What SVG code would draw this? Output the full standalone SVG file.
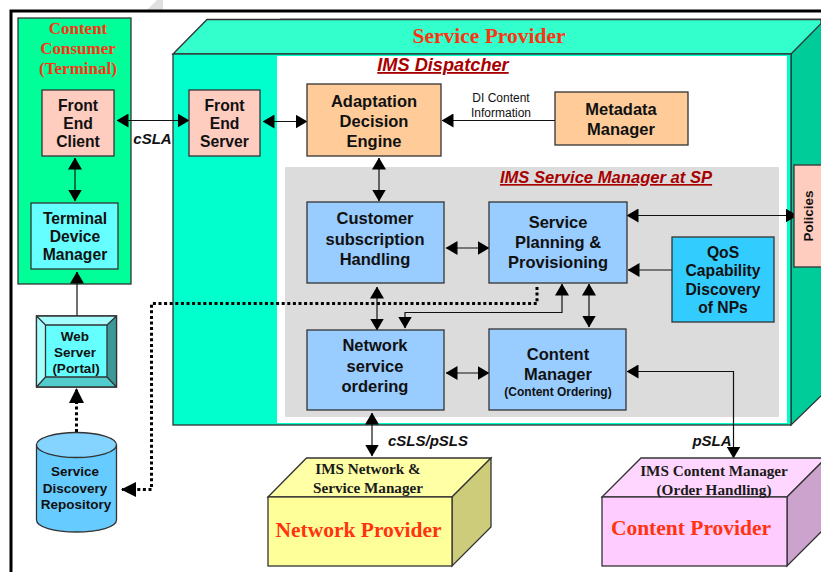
<svg xmlns="http://www.w3.org/2000/svg" width="821" height="572" viewBox="0 0 821 572">
<style>
text{font-family:"Liberation Sans",Arial,sans-serif;text-anchor:middle;fill:#111}
.b{font-weight:700;font-size:15.7px}
.w{font-weight:700;font-size:13.500px}
.s{font-family:"Liberation Serif","Times New Roman",serif;font-weight:700;fill:#ff3311}
.k{font-family:"Liberation Serif","Times New Roman",serif;font-weight:700;font-size:15.200px;fill:#1a1a1a}
.t{font-weight:700;font-style:italic;font-size:18px;fill:#a80000;text-decoration:underline}
.i{font-weight:700;font-style:italic;font-size:15px}
.n{stroke:#333;stroke-width:1.3}
.c{fill:none;stroke:#111;stroke-width:1.2}
.d{fill:none;stroke:#000;stroke-width:3;stroke-dasharray:3 2.6}
</style>
<defs>
<marker id="e" viewBox="0 0 12 14" refX="11.5" refY="7" markerWidth="12" markerHeight="14" markerUnits="userSpaceOnUse" orient="auto-start-reverse"><path d="M0 0L12 7L0 14Z" fill="#000"/></marker>
<marker id="l" viewBox="0 0 15 15" refX="14" refY="7.5" markerWidth="15" markerHeight="15" markerUnits="userSpaceOnUse" orient="auto"><path d="M0 0L15 7.5L0 15Z" fill="#000"/></marker>
</defs>
<rect width="821" height="572" fill="#fff"/>
<path d="M147 10L157 0L163 0L163 10Z" fill="#e0e0e0"/>
<path d="M11 572V11H821" fill="none" stroke="#000" stroke-width="3"/>
<path d="M280 18.500H821" stroke="#bbb" stroke-width="1"/>

<g id="service-provider">
<path class="n" d="M173 54L207 19.500H821V54Z" fill="#33ffcc"/>
<path class="n" d="M791 54L825 19.500V392L791 425Z" fill="#00cc99"/>
<rect class="n" x="173" y="54" width="618" height="371" fill="#00ffcc"/>
<rect x="277" y="56" width="510" height="367" fill="#fff"/>
<text class="s" x="489" y="43" font-size="21.500">Service Provider</text>
<text class="t" x="443" y="71" style="font-size:18.200px">IMS Dispatcher</text>
</g>
<g id="ims-service-manager">
<rect x="285" y="167" width="494" height="250" fill="#dcdcdc"/>
<text class="t" x="606" y="183" style="font-size:16.600px">IMS Service Manager at SP</text>
</g>
<g id="content-consumer">
<rect class="n" x="18" y="18" width="113" height="266" fill="#00ff99"/>
<text class="s" x="78" y="34" font-size="17">Content</text>
<text class="s" x="78" y="54" font-size="17">Consumer</text>
<text class="s" x="78" y="74" font-size="17">(Terminal)</text>
</g>

<g id="connectors">
<path class="c" marker-start="url(#e)" marker-end="url(#e)" d="M117 120.500H189"/>
<path class="c" marker-start="url(#e)" marker-end="url(#e)" d="M263 121.500H307"/>
<path class="c" marker-start="url(#e)" marker-end="url(#e)" d="M75 158V201"/>
<path class="c" marker-end="url(#e)" d="M77 316V272"/>
<path class="d" marker-end="url(#l)" d="M76.500 432V389"/>
<path class="d" marker-end="url(#l)" d="M537 287V303.500H151.500V489.500H122"/>
<path class="c" marker-start="url(#e)" marker-end="url(#e)" d="M379 158V201"/>
<path class="c" marker-end="url(#e)" d="M555 120.500H442"/>
<path class="c" marker-start="url(#e)" marker-end="url(#e)" d="M446 248H489"/>
<path class="c" marker-start="url(#e)" marker-end="url(#e)" d="M627 215.500H797"/>
<path class="c" marker-end="url(#e)" d="M672 270H628"/>
<path class="c" marker-start="url(#e)" marker-end="url(#e)" d="M377 287V330"/>
<path class="c" marker-start="url(#e)" marker-end="url(#e)" d="M562 284V312.500H405V328"/>
<path class="c" marker-start="url(#e)" marker-end="url(#e)" d="M589 284V327"/>
<path class="c" marker-start="url(#e)" marker-end="url(#e)" d="M446 373H489"/>
<path class="c" marker-start="url(#e)" marker-end="url(#e)" d="M627 371.500H733.500V458"/>
<path class="c" marker-start="url(#e)" marker-end="url(#e)" d="M372 413V456"/>
<text class="i" x="152.500" y="144">cSLA</text>
<text class="i" x="428" y="446">cSLS/pSLS</text>
<text class="i" x="712" y="446">pSLA</text>
<text x="501" y="102" font-size="12">DI Content</text>
<text x="501" y="117" font-size="12">Information</text>
</g>

<g id="front-end-client"><rect class="n" x="42" y="90" width="72" height="66" fill="#ffccc0"/>
<text class="b" x="78" y="111">Front</text><text class="b" x="78" y="129">End</text><text class="b" x="78" y="147">Client</text></g>
<g id="terminal-device-manager"><rect class="n" x="31" y="203" width="87" height="66" fill="#66ffff"/>
<text class="b" x="75" y="224">Terminal</text><text class="b" x="75" y="242">Device</text><text class="b" x="75" y="260">Manager</text></g>
<g id="front-end-server"><rect class="n" x="189" y="90" width="71" height="66" fill="#ffccc0"/>
<text class="b" x="224.500" y="111">Front</text><text class="b" x="224.500" y="129">End</text><text class="b" x="224.500" y="147">Server</text></g>
<g id="adaptation-decision-engine"><rect class="n" x="307" y="84" width="134" height="72" fill="#ffcc99"/>
<text class="b" x="374" y="107" style="font-size:16.500px">Adaptation</text><text class="b" x="374" y="127" style="font-size:16.500px">Decision</text><text class="b" x="374" y="147" style="font-size:16.500px">Engine</text></g>
<g id="metadata-manager"><rect class="n" x="555" y="92" width="133" height="53" fill="#ffcc99"/>
<text class="b" x="621" y="115" style="font-size:16.500px">Metadata</text><text class="b" x="621" y="135" style="font-size:16.500px">Manager</text></g>
<g id="customer-subscription-handling"><rect class="n" x="307" y="202" width="137" height="81" fill="#99ccff"/>
<text class="b" x="375" y="224" style="font-size:16.500px">Customer</text><text class="b" x="375" y="245" style="font-size:16.500px">subscription</text><text class="b" x="375" y="265" style="font-size:16.500px">Handling</text></g>
<g id="service-planning-provisioning"><rect class="n" x="489" y="202" width="138" height="81" fill="#99ccff"/>
<text class="b" x="558" y="228" style="font-size:16.500px">Service</text><text class="b" x="558" y="248" style="font-size:16.500px">Planning &amp;</text><text class="b" x="558" y="268" style="font-size:16.500px">Provisioning</text></g>
<g id="qos-capability-discovery"><rect class="n" x="672" y="237" width="102" height="85" fill="#33ccff"/>
<text class="b" x="723" y="258">QoS</text><text class="b" x="723" y="276">Capability</text><text class="b" x="723" y="295">Discovery</text><text class="b" x="723" y="313">of NPs</text></g>
<g id="network-service-ordering"><rect class="n" x="307" y="330" width="137" height="80" fill="#99ccff"/>
<text class="b" x="375" y="351" style="font-size:16.500px">Network</text><text class="b" x="375" y="372" style="font-size:16.500px">service</text><text class="b" x="375" y="392" style="font-size:16.500px">ordering</text></g>
<g id="content-manager"><rect class="n" x="489" y="329" width="137" height="81" fill="#99ccff"/>
<text class="b" x="558" y="360" style="font-size:16.500px">Content</text><text class="b" x="558" y="380" style="font-size:16.500px">Manager</text><text class="w" x="558" y="396" style="font-size:12px">(Content Ordering)</text></g>
<g id="policies"><rect class="n" x="794" y="165" width="30" height="102" fill="#ffccc0"/>
<text class="w" transform="translate(813 216) rotate(-90)">Policies</text></g>
<g id="web-server">
<rect class="n" x="36.500" y="316" width="80" height="71" fill="#66ffff"/>
<path d="M36.500 316H116.500L107 325H45.500V377L36.500 387Z" fill="#a6ffff"/>
<path d="M116.500 316V387L107 377V325Z" fill="#3d9999"/>
<path d="M36.500 387H116.500L107 377H45.500Z" fill="#52cccc"/>
<path class="n" fill="none" d="M36.500 316H116.500V387H36.500ZM36.500 316L45.500 325M116.500 316L107 325M36.500 387L45.500 377M116.500 387L107 377M45.500 325H107V377H45.500Z"/>
<text class="w" x="75" y="341">Web</text><text class="w" x="75" y="357">Server</text><text class="w" x="76" y="373">(Portal)</text></g>
<g id="service-discovery-repository">
<path class="n" d="M36.500 445V520C36.500 527 54 532 76.500 532S116.500 527 116.500 520V445Z" fill="#66ccff"/>
<ellipse class="n" cx="76.500" cy="445" rx="40" ry="12.500" fill="#85d3ff"/>
<text class="w" x="75" y="476">Service</text><text class="w" x="75" y="493">Discovery</text><text class="w" x="76" y="509">Repository</text></g>
<g id="network-provider">
<path class="n" d="M268 497L306.500 458H491L452 497Z" fill="#ffffa6"/>
<path class="n" d="M452 497L491 458V527L452 566Z" fill="#cccc7a"/>
<rect class="n" x="268" y="497" width="184" height="69" fill="#ffff99"/>
<text class="k" x="368" y="474">IMS Network &amp;</text><text class="k" x="368" y="493">Service Manager</text>
<text class="s" x="358.500" y="537" font-size="21.500">Network Provider</text></g>
<g id="content-provider">
<path class="n" d="M602 497L641 458H826L787 497Z" fill="#ffd6ff"/>
<path class="n" d="M787 497L826 458V527L787 566Z" fill="#cca3cc"/>
<rect class="n" x="602" y="497" width="185" height="69" fill="#ffccff"/>
<text class="k" x="714" y="476">IMS Content Manager</text><text class="k" x="714" y="495">(Order Handling)</text>
<text class="s" x="691" y="535" font-size="21.500">Content Provider</text></g>
</svg>
